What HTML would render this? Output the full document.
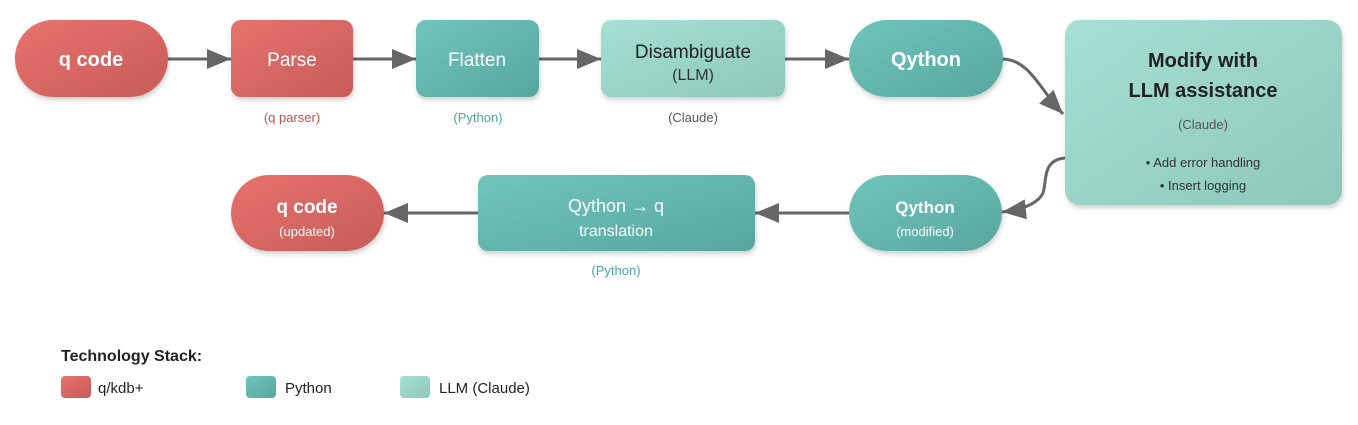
<!DOCTYPE html>
<html><head><meta charset="utf-8"><style>
html,body{margin:0;padding:0;background:#fff;}
svg{display:block;font-family:"Liberation Sans",Arial,sans-serif;}
</style></head><body>
<svg width="1358" height="425" viewBox="0 0 1358 425" xmlns="http://www.w3.org/2000/svg">
<defs>
<linearGradient id="r" x1="0" y1="0" x2="1" y2="1"><stop offset="0" stop-color="#e8726d"/><stop offset="1" stop-color="#c65c59"/></linearGradient>
<linearGradient id="t" x1="0" y1="0" x2="1" y2="1"><stop offset="0" stop-color="#6fc5bd"/><stop offset="1" stop-color="#58a69e"/></linearGradient>
<linearGradient id="l" x1="0" y1="0" x2="1" y2="1"><stop offset="0" stop-color="#a6e0d4"/><stop offset="1" stop-color="#8ec8ba"/></linearGradient>
<filter id="s" x="-10%" y="-10%" width="130%" height="140%"><feDropShadow dx="1" dy="3" stdDeviation="2.5" flood-color="#000" flood-opacity="0.18"/></filter>
<marker id="a" markerWidth="26" markerHeight="22" refX="24" refY="11" orient="auto" markerUnits="userSpaceOnUse"><path d="M0,1 L24,11 L0,21 Z" fill="#666"/></marker>
</defs>
<g stroke="#666" stroke-width="3" fill="none" marker-end="url(#a)">
<line x1="168" y1="59" x2="231" y2="59"/>
<line x1="353" y1="59" x2="416" y2="59"/>
<line x1="539" y1="59" x2="601" y2="59"/>
<line x1="785" y1="59" x2="849" y2="59"/>
<path d="M1003,59 C1030,60 1040,90 1063,114"/>
<path d="M1065,158 C1040,160 1048,185 1042,195 C1035,205 1020,210 1002,212"/>
<line x1="849" y1="213" x2="755" y2="213"/>
<line x1="478" y1="213" x2="384" y2="213"/>
</g>
<g filter="url(#s)">
<rect x="15" y="20" width="153" height="77" rx="38" fill="url(#r)"/>
<rect x="231" y="20" width="122" height="77" rx="10" fill="url(#r)"/>
<rect x="416" y="20" width="123" height="77" rx="10" fill="url(#t)"/>
<rect x="601" y="20" width="184" height="77" rx="10" fill="url(#l)"/>
<rect x="849" y="20" width="154" height="77" rx="38" fill="url(#t)"/>
<rect x="1065" y="20" width="277" height="185" rx="15" fill="url(#l)"/>
<rect x="849" y="175" width="153" height="76" rx="38" fill="url(#t)"/>
<rect x="478" y="175" width="277" height="76" rx="10" fill="url(#t)"/>
<rect x="231" y="175" width="153" height="76" rx="38" fill="url(#r)"/>
</g>
<g text-anchor="middle">
<text x="91" y="66" font-size="20" font-weight="bold" fill="#fff">q code</text>
<text x="292" y="66" font-size="19" fill="#fff">Parse</text>
<text x="477" y="66" font-size="19" fill="#fff">Flatten</text>
<text x="693" y="58" font-size="19" fill="#222">Disambiguate</text>
<text x="693" y="80" font-size="16" fill="#333">(LLM)</text>
<text x="926" y="66" font-size="20" font-weight="bold" fill="#fff">Qython</text>
<text x="1203" y="67" font-size="20" font-weight="bold" fill="#222">Modify with</text>
<text x="1203" y="97" font-size="20" font-weight="bold" fill="#222">LLM assistance</text>
<text x="1203" y="129" font-size="13" fill="#555">(Claude)</text>
<text x="1203" y="167" font-size="13" fill="#333">• Add error handling</text>
<text x="1203" y="190" font-size="13" fill="#333">• Insert logging</text>
<text x="925" y="213" font-size="17" font-weight="bold" fill="#fff">Qython</text>
<text x="925" y="236" font-size="13" fill="#fff">(modified)</text>
<text x="616" y="212" font-size="18" fill="#fff">Qython → q</text>
<text x="616" y="236" font-size="16" fill="#fff">translation</text>
<text x="307" y="213" font-size="19" font-weight="bold" fill="#fff">q code</text>
<text x="307" y="236" font-size="13" fill="#fff">(updated)</text>
<text x="292" y="122" font-size="13" fill="#c0504d">(q parser)</text>
<text x="478" y="122" font-size="13" fill="#4aa59c">(Python)</text>
<text x="693" y="122" font-size="13" fill="#555">(Claude)</text>
<text x="616" y="275" font-size="13" fill="#4aa59c">(Python)</text>
</g>
<text x="61" y="361" font-size="16" font-weight="bold" fill="#222">Technology Stack:</text>
<rect x="61" y="376" width="30" height="22" rx="4" fill="url(#r)"/>
<rect x="246" y="376" width="30" height="22" rx="4" fill="url(#t)"/>
<rect x="400" y="376" width="30" height="22" rx="4" fill="url(#l)"/>
<text x="98" y="393" font-size="15" fill="#222">q/kdb+</text>
<text x="285" y="393" font-size="15" fill="#222">Python</text>
<text x="439" y="393" font-size="15" fill="#222">LLM (Claude)</text>
</svg>
</body></html>
